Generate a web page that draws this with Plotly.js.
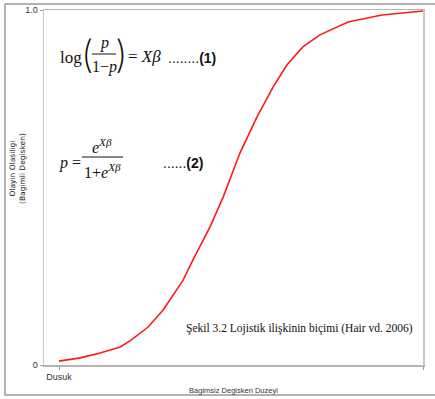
<!DOCTYPE html>
<html>
<head>
<meta charset="utf-8">
<script src="https://cdn.plot.ly/plotly-3.0.1.min.js"></script>
<style>html,body{margin:0;padding:0;background:#fff;}#chart{width:435px;height:399px;}</style>
</head>
<body>
<div id="chart"></div>
<script>
// Data
var levelX = [0, 0.058, 0.113, 0.168, 0.195, 0.223, 0.245, 0.286, 0.341, 0.368, 0.415, 0.451, 0.478, 0.497, 0.544, 0.588, 0.626, 0.670, 0.717, 0.794, 0.887, 1.0];
var probY  = [0.011, 0.020, 0.034, 0.051, 0.068, 0.090, 0.107, 0.155, 0.239, 0.296, 0.389, 0.473, 0.549, 0.597, 0.699, 0.783, 0.845, 0.896, 0.930, 0.966, 0.986, 0.997];
var xTickVals = [0, 1];
var xTickText = ['Dusuk', 'Yuksek'];
var yTickVals = [0, 1];
var yTickText = ['0', '1.0'];

// layout helpers: convert page pixel positions to paper coords
var W = 435, H = 399, ML = 44, MR = 12, MT = 10, MB = 34;
var PW = W - ML - MR, PH = H - MT - MB;
function px(x) { return (x - ML) / PW; }
function py(y) { return (H - MB - y) / PH; }

var serif = 'Liberation Serif, Times New Roman, serif';
var narrow = 'Liberation Sans Narrow, Liberation Sans, Arial, sans-serif';
var sans = 'DejaVu Sans, Liberation Sans, sans-serif';
var parenFont = 'Inter, Noto Sans, sans-serif';

function ann(text, x, y, size, family, xanchor, weight) {
  var f = {family: family, size: size, color: '#111'};
  if (weight) f.weight = weight;
  return {text: text, xref: 'paper', yref: 'paper', x: px(x), y: py(y),
          xanchor: xanchor || 'center', yanchor: 'middle', showarrow: false, font: f};
}

var annotations = [
  // equation 1
  ann('log', 71, 57, 17, serif),
  ann('(', 87, 54, 38, parenFont, 'center', 200),
  ann('<i>p</i>', 104, 43, 16, serif),
  ann('1−<i>p</i>', 104, 67, 16, serif),
  ann(')', 121, 54, 38, parenFont, 'center', 200),
  ann('= <i>X</i><i>β</i>', 126, 56, 17, serif, 'left'),
  ann('........<b>(1)</b>', 166, 58, 14, narrow, 'left'),
  // equation 2
  ann('<i>p</i> =', 57, 163, 16, serif, 'left'),
  ann('<i>e</i><sup><i>Xβ</i></sup>', 102, 146, 16, serif),
  ann('1+<i>e</i><sup><i>Xβ</i></sup>', 102, 171, 16, serif),
  ann('......<b>(2)</b>', 161, 163, 14, narrow, 'left'),
  // caption
  ann('Şekil 3.2 Lojistik ilişkinin biçimi (Hair vd. 2006)', 299, 328, 11.5, serif),
  // y axis title
  {text: 'Olayin Olasiligi<br>(Bagimli Degisken)', xref: 'paper', yref: 'paper',
   x: px(17), y: py(168), xanchor: 'center', yanchor: 'middle', showarrow: false,
   textangle: -90, font: {family: sans, size: 7.5, color: '#222'}}
];

var shapes = [
  // fraction bars
  {type: 'line', xref: 'paper', yref: 'paper', x0: px(92), x1: px(116), y0: py(54), y1: py(54), line: {color: '#111', width: 1}},
  {type: 'line', xref: 'paper', yref: 'paper', x0: px(82), x1: px(123), y0: py(157), y1: py(157), line: {color: '#111', width: 1}},
  // outer frame
  {type: 'rect', xref: 'paper', yref: 'paper', x0: px(5), x1: px(445), y0: py(395), y1: py(4), line: {color: '#9a9a9a', width: 1.5}, layer: 'below'}
];

var trace = {
  x: levelX, y: probY, type: 'scatter', mode: 'lines',
  line: {color: '#ff1a1a', width: 1.6, shape: 'linear'},
  hoverinfo: 'skip'
};

var layout = {
  width: W, height: H,
  margin: {l: ML, r: MR, t: MT, b: MB, pad: 0},
  paper_bgcolor: '#fff', plot_bgcolor: '#fff',
  showlegend: false,
  xaxis: {
    range: [-(15 / 364), 1], tickvals: xTickVals, ticktext: xTickText,
    showgrid: false, zeroline: false, showline: true, linecolor: '#b5b5b5', linewidth: 1.5,
    mirror: true, ticks: 'outside', ticklen: 3, tickcolor: '#999',
    tickfont: {family: narrow, size: 9, color: '#333'},
    title: {text: 'Bagimsiz Degisken Duzeyi', font: {family: narrow, size: 7.5, color: '#333'}, standoff: 6},
    fixedrange: true
  },
  yaxis: {
    range: [0, 1], tickvals: yTickVals, ticktext: yTickText,
    showgrid: false, zeroline: false, showline: true, linecolor: '#c8c8c8', linewidth: 1.5,
    mirror: true, ticks: 'outside', ticklen: 3, tickcolor: '#999',
    tickfont: {family: narrow, size: 9, color: '#333'},
    fixedrange: true
  },
  annotations: annotations,
  shapes: shapes
};

Plotly.newPlot('chart', [trace], layout, {displayModeBar: false, staticPlot: true});
</script>
</body>
</html>
